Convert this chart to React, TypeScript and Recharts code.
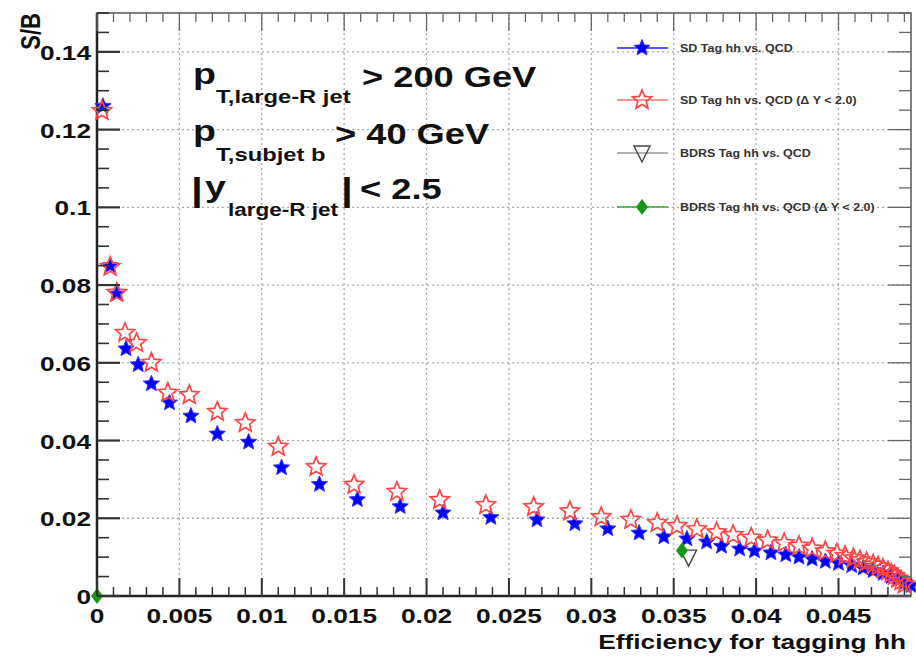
import { ScatterChart, Scatter, XAxis, YAxis, CartesianGrid, ReferenceArea } from "recharts";

// SD tag hh vs. QCD
const sdEff = [
  0.00036, 0.0008, 0.0012, 0.00176, 0.0025, 0.0033, 0.0044, 0.0057, 0.0073, 0.0092,
  0.0112, 0.0135, 0.0158, 0.0184, 0.021, 0.0239, 0.0267, 0.029, 0.031, 0.0329,
  0.0344, 0.0358, 0.037, 0.0379, 0.039, 0.0399, 0.0409, 0.0418, 0.0426, 0.0434,
  0.0442, 0.045, 0.0458, 0.0465, 0.0471, 0.0477, 0.0482, 0.0486, 0.049, 0.0494,
];
const sdSB = [
  0.126, 0.085, 0.0777, 0.0636, 0.0595, 0.0546, 0.0497, 0.0463, 0.0417, 0.0396,
  0.033, 0.0287, 0.0248, 0.023, 0.0214, 0.0202, 0.0196, 0.0186, 0.0173, 0.0162,
  0.0152, 0.0147, 0.0139, 0.0128, 0.0121, 0.0116, 0.0111, 0.0106, 0.01, 0.0095,
  0.0089, 0.0084, 0.0078, 0.0072, 0.0065, 0.0058, 0.005, 0.0042, 0.0034, 0.0027,
];

// SD tag hh vs. QCD (dY < 2.0)
const sdDyEff = [
  0.0003, 0.0008, 0.0012, 0.0017, 0.0024, 0.0033, 0.0043, 0.0056, 0.0073, 0.009,
  0.011, 0.0133, 0.0156, 0.0182, 0.0208, 0.0236, 0.0265, 0.0287, 0.0306, 0.0324,
  0.034, 0.0352, 0.0364, 0.0376, 0.0386, 0.0397, 0.0407, 0.0417, 0.0426, 0.0434,
  0.0442, 0.0449, 0.0454, 0.0459, 0.0463, 0.0467, 0.0471, 0.0474, 0.0477, 0.048,
  0.0482, 0.0484, 0.0486, 0.0488, 0.049,
];
const sdDySB = [
  0.1248, 0.0847, 0.078, 0.0677, 0.0651, 0.06, 0.0523, 0.0517, 0.0474, 0.0445,
  0.0384, 0.0332, 0.0286, 0.0268, 0.0247, 0.0234, 0.0229, 0.0218, 0.0203, 0.0196,
  0.0188, 0.018, 0.0172, 0.0164, 0.0157, 0.015, 0.0143, 0.0136, 0.0129, 0.0122,
  0.0115, 0.0109, 0.0103, 0.0097, 0.0092, 0.0087, 0.0081, 0.0076, 0.007, 0.0064,
  0.0058, 0.0052, 0.0045, 0.0038, 0.003,
];

// BDRS
const bdrsEff = [0.0359];
const bdrsSB = [0.01];
const bdrsDyEff = [0, 0.0355];
const bdrsDySB = [0, 0.0117];

const xMajor = [0, 0.005, 0.01, 0.015, 0.02, 0.025, 0.03, 0.035, 0.04, 0.045];
const xLabels = ["0", "0.005", "0.01", "0.015", "0.02", "0.025", "0.03", "0.035", "0.04", "0.045"];
const yMajor = [0, 0.02, 0.04, 0.06, 0.08, 0.1, 0.12, 0.14];
const yLabels = ["0", "0.02", "0.04", "0.06", "0.08", "0.1", "0.12", "0.14"];

const xMinor = Array.from({ length: 50 }, (_, i) => +(i * 0.001).toFixed(3));
const yMinor = Array.from({ length: 31 }, (_, i) => +(i * 0.005).toFixed(3));

const L = 97;
const T = 13;
const R = 911;
const B = 596;
const FONT = "'Liberation Sans', Arial, Helvetica, sans-serif";
const SX = 1.25;

const toPts = (xs: number[], ys: number[]) => xs.map((x, i) => ({ x, y: ys[i] }));

function majorIndex(v: number, list: number[]) {
  return list.findIndex((m) => Math.abs(m - v) < 1e-6);
}

function starPoints(cx: number, cy: number, r: number) {
  const pts: string[] = [];
  for (let i = 0; i < 10; i++) {
    const rad = i % 2 === 0 ? r : r * 0.45;
    const a = -Math.PI / 2 + (i * Math.PI) / 5;
    pts.push(`${cx + rad * Math.cos(a)},${cy + rad * Math.sin(a)}`);
  }
  return pts.join(" ");
}

const BlueStar = (p: any) => (
  <polygon points={starPoints(p.cx, p.cy, 8.5)} fill="#0000ff" stroke="#3333ff" strokeWidth={1} />
);
const RedStar = (p: any) => (
  <polygon points={starPoints(p.cx, p.cy, 10)} fill="none" stroke="#ff4545" strokeWidth={1.7} />
);
const OpenTri = (p: any) => (
  <polygon
    points={`${p.cx - 8},${p.cy - 7} ${p.cx + 8},${p.cy - 7} ${p.cx},${p.cy + 9}`}
    fill="none"
    stroke="#444"
    strokeWidth={1.4}
  />
);
const Diamond = (p: any) => (
  <polygon
    points={`${p.cx},${p.cy - 8} ${p.cx + 6},${p.cy} ${p.cx},${p.cy + 8} ${p.cx - 6},${p.cy}`}
    fill="#169616"
  />
);

function SText({ x, y, size, anchor = "start", children, fill = "#111" }: any) {
  return (
    <text
      transform={`translate(${x},${y}) scale(${SX},1)`}
      fontFamily={FONT}
      fontWeight="bold"
      fontSize={size}
      textAnchor={anchor}
      fill={fill}
    >
      {children}
    </text>
  );
}

function XTick(props: any) {
  const { x, payload } = props;
  const idx = majorIndex(payload.value, xMajor);
  const major = idx >= 0;
  const len = major ? 18 : 9;
  return (
    <g>
      <line x1={x} x2={x} y1={B} y2={B - len} stroke="#333" strokeWidth={major ? 2 : 1.5} />
      <line x1={x} x2={x} y1={T} y2={T + len} stroke="#666" strokeWidth={1.3} />
      {major && (
        <SText x={x} y={B + 27} size={21} anchor="middle">
          {xLabels[idx]}
        </SText>
      )}
    </g>
  );
}

function YTick(props: any) {
  const { y, payload } = props;
  const idx = majorIndex(payload.value, yMajor);
  const major = idx >= 0;
  const len = major ? 23 : 12;
  return (
    <g>
      <line x1={L} x2={L + len} y1={y} y2={y} stroke="#333" strokeWidth={major ? 2.2 : 1.6} />
      <line x1={R} x2={R - len} y1={y} y2={y} stroke="#666" strokeWidth={1.3} />
      {major && (
        <SText x={91} y={y + 8} size={21} anchor="end">
          {yLabels[idx]}
        </SText>
      )}
    </g>
  );
}

const legendRows = [
  { label: "SD Tag hh vs. QCD", color: "#2020ff", y: 48, Marker: BlueStar },
  { label: "SD Tag hh vs. QCD (\u0394 Y < 2.0)", color: "#ff7070", y: 100, Marker: RedStar },
  { label: "BDRS Tag hh vs. QCD", color: "#999", y: 153, Marker: OpenTri },
  { label: "BDRS Tag hh vs. QCD (\u0394 Y < 2.0)", color: "#33aa33", y: 207, Marker: Diamond },
];

export default function App() {
  return (
    <div style={{ position: "absolute", left: 0, top: 0, width: 916, height: 656, background: "#fff" }}>
      <ScatterChart width={916} height={656} margin={{ top: T, right: 916 - R, bottom: 0, left: 0 }}>
        <CartesianGrid
          horizontalValues={yMajor}
          verticalValues={xMajor}
          stroke="#aaa"
          strokeDasharray="2 3"
          strokeWidth={1.3}
        />
        <XAxis
          type="number"
          dataKey="x"
          domain={[0, 0.0494]}
          ticks={xMinor}
          interval={0}
          height={656 - B}
          tick={<XTick />}
          tickLine={false}
          axisLine={{ stroke: "#222", strokeWidth: 2.5 }}
        />
        <YAxis
          type="number"
          dataKey="y"
          domain={[0, 0.15]}
          ticks={yMinor}
          interval={0}
          width={L}
          tick={<YTick />}
          tickLine={false}
          axisLine={{ stroke: "#222", strokeWidth: 2.5 }}
        />
        <ReferenceArea x1={0} x2={0.0494} y1={0} y2={0.15} fill="none" stroke="#555" strokeWidth={1.5} />
        <Scatter data={toPts(sdEff, sdSB)} shape={BlueStar} isAnimationActive={false} />
        <Scatter data={toPts(sdDyEff, sdDySB)} shape={RedStar} isAnimationActive={false} />
        <Scatter data={toPts(bdrsEff, bdrsSB)} shape={OpenTri} isAnimationActive={false} />
        <Scatter data={toPts(bdrsDyEff, bdrsDySB)} shape={Diamond} isAnimationActive={false} />
      </ScatterChart>
      <svg
        width={916}
        height={656}
        style={{ position: "absolute", left: 0, top: 0, pointerEvents: "none" }}
      >
        {/* axis titles */}
        <text
          transform={`translate(40,13) scale(${SX},1) rotate(-90)`}
          fontFamily={FONT}
          fontWeight="bold"
          fontSize={22}
          textAnchor="end"
          fill="#111"
        >
          S/B
        </text>
        <SText x={906} y={649} size={21} anchor="end">
          Efficiency for tagging hh
        </SText>

        {/* cuts */}
        <SText x={193} y={84} size={30}>p</SText>
        <SText x={216} y={103} size={19}>T,large-R jet</SText>
        <SText x={362} y={87} size={29}>&gt; 200 GeV</SText>

        <SText x={193} y={141} size={30}>p</SText>
        <SText x={216} y={161} size={19}>T,subjet b</SText>
        <SText x={335} y={144} size={29}>&gt; 40 GeV</SText>

        <SText x={191} y={201} size={34}>|</SText>
        <SText x={205} y={197} size={30}>y</SText>
        <SText x={228} y={216} size={18}>large-R jet</SText>
        <SText x={341} y={201} size={34}>|</SText>
        <SText x={360} y={199} size={29}>&lt; 2.5</SText>

        {/* legend */}
        {legendRows.map((r) => (
          <g key={r.label}>
            <line x1={617} x2={668} y1={r.y} y2={r.y} stroke={r.color} strokeWidth={1.5} />
            <r.Marker cx={642} cy={r.y} />
            <SText x={680} y={r.y + 4} size={10} fill="#333">
              {r.label}
            </SText>
          </g>
        ))}
      </svg>
    </div>
  );
}
